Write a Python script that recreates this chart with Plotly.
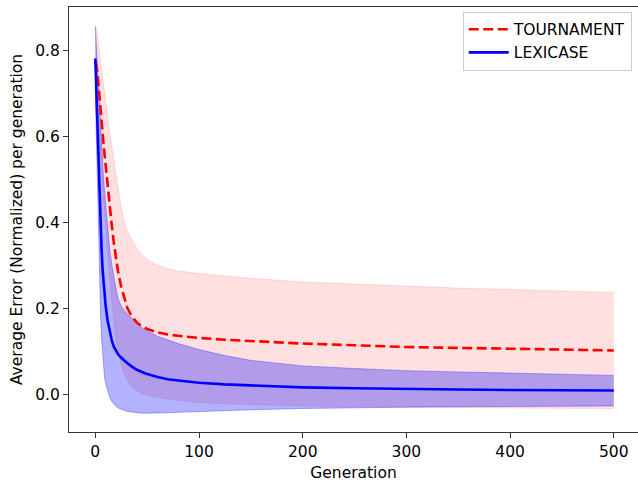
import plotly.graph_objects as go

generations = [0, 1, 2, 3, 4, 5, 6, 7, 8, 9, 10, 12, 14, 16, 18, 20, 22, 25, 28, 31, 35, 40, 45, 50,
               60, 70, 80, 100, 125, 150, 200, 250, 300, 350, 400, 450, 500]

tour_mean = [0.773, 0.765, 0.75, 0.725, 0.70, 0.67, 0.64, 0.61, 0.58, 0.555, 0.53, 0.48, 0.435, 0.39,
             0.35, 0.315, 0.285, 0.25, 0.225, 0.20, 0.182, 0.167, 0.158, 0.152, 0.144, 0.139, 0.136,
             0.131, 0.127, 0.124, 0.118, 0.114, 0.110, 0.108, 0.106, 0.104, 0.102]
tour_upper = [0.856, 0.85, 0.835, 0.815, 0.795, 0.775, 0.755, 0.735, 0.715, 0.695, 0.675, 0.64, 0.605,
              0.575, 0.54, 0.51, 0.48, 0.435, 0.40, 0.38, 0.36, 0.34, 0.325, 0.313, 0.300, 0.292, 0.287,
              0.281, 0.275, 0.270, 0.261, 0.256, 0.251, 0.247, 0.244, 0.240, 0.237]
tour_lower = [0.69, 0.68, 0.665, 0.635, 0.605, 0.565, 0.525, 0.485, 0.445, 0.415, 0.385, 0.32, 0.265,
              0.21, 0.165, 0.13, 0.10, 0.07, 0.048, 0.032, 0.018, 0.008, 0.002, -0.002, -0.007, -0.011,
              -0.014, -0.019, -0.022, -0.024, -0.027, -0.028, -0.030, -0.031, -0.032, -0.0325, -0.033]

lex_mean = [0.781, 0.70, 0.62, 0.54, 0.465, 0.40, 0.34, 0.29, 0.255, 0.228, 0.205, 0.17, 0.143, 0.124,
            0.110, 0.100, 0.093, 0.085, 0.078, 0.072, 0.065, 0.057, 0.052, 0.047, 0.040, 0.035, 0.032,
            0.027, 0.023, 0.021, 0.016, 0.014, 0.012, 0.011, 0.010, 0.0095, 0.009]
lex_upper = [0.856, 0.81, 0.76, 0.705, 0.655, 0.61, 0.57, 0.53, 0.50, 0.47, 0.44, 0.39, 0.335, 0.30,
             0.27, 0.245, 0.222, 0.205, 0.195, 0.187, 0.176, 0.165, 0.155, 0.147, 0.135, 0.126, 0.118,
             0.104, 0.090, 0.079, 0.066, 0.060, 0.055, 0.052, 0.049, 0.046, 0.044]
lex_lower = [0.706, 0.59, 0.48, 0.37, 0.275, 0.19, 0.13, 0.09, 0.058, 0.038, 0.025, 0.005, -0.008,
             -0.017, -0.023, -0.028, -0.032, -0.035, -0.038, -0.040, -0.041, -0.043, -0.044, -0.044,
             -0.044, -0.043, -0.042, -0.040, -0.038, -0.036, -0.033, -0.031, -0.030, -0.029, -0.028,
             -0.0275, -0.027]

x_ticks = [0, 100, 200, 300, 400, 500]
y_ticks = [0.0, 0.2, 0.4, 0.6, 0.8]
y_ticklabels = ["0.0", "0.2", "0.4", "0.6", "0.8"]

FONT = "DejaVu Sans"
FS = 15.5

fig = go.Figure()

# Tournament band
fig.add_trace(go.Scatter(x=generations, y=tour_lower, mode="lines",
                         line=dict(color="rgba(255,0,0,0.12)", width=1),
                         showlegend=False, hoverinfo="skip"))
fig.add_trace(go.Scatter(x=generations, y=tour_upper, mode="lines", fill="tonexty",
                         fillcolor="rgba(255,0,0,0.12)",
                         line=dict(color="rgba(255,0,0,0.12)", width=1),
                         showlegend=False, hoverinfo="skip"))
# Lexicase band
fig.add_trace(go.Scatter(x=generations, y=lex_lower, mode="lines",
                         line=dict(color="rgba(0,0,255,0.3)", width=1),
                         showlegend=False, hoverinfo="skip"))
fig.add_trace(go.Scatter(x=generations, y=lex_upper, mode="lines", fill="tonexty",
                         fillcolor="rgba(0,0,255,0.3)",
                         line=dict(color="rgba(0,0,255,0.3)", width=1),
                         showlegend=False, hoverinfo="skip"))

fig.add_trace(go.Scatter(x=generations, y=tour_mean, mode="lines", name="TOURNAMENT",
                         line=dict(color="#ff0000", width=2.6, dash="10px,4.5px")))
fig.add_trace(go.Scatter(x=generations, y=lex_mean, mode="lines", name="LEXICASE",
                         line=dict(color="#0000ff", width=2.6)))

x0_px, x_scale = 95.3, 1.037
l_margin, width = 69, 638
x_range = [(l_margin - x0_px) / x_scale, (width - x0_px) / x_scale]
y0_px, y_scale = 394.3, 430.0
t_margin, bottom_px, height = 7, 432, 482
y_range = [(y0_px - bottom_px) / y_scale, (y0_px - t_margin) / y_scale]

fig.update_layout(
    width=width, height=height,
    margin=dict(l=l_margin, r=0, t=t_margin, b=height - bottom_px),
    paper_bgcolor="white", plot_bgcolor="white",
    font=dict(family=FONT, size=FS, color="black"),
    legend=dict(x=0.989, y=0.989, xanchor="right", yanchor="top",
                traceorder="normal", itemwidth=40,
                bgcolor="rgba(255,255,255,0.8)", bordercolor="#cccccc", borderwidth=1,
                font=dict(family=FONT, size=FS, color="black"),
                tracegroupgap=0),
    xaxis=dict(range=x_range, tickvals=x_ticks, ticks="outside", ticklen=5, tickwidth=1,
               tickcolor="#333333", showline=True, linecolor="#333333", linewidth=1.2,
               mirror=True, showgrid=False, zeroline=False,
               title=dict(text="Generation", font=dict(family=FONT, size=FS), standoff=8),
               tickfont=dict(family=FONT, size=FS)),
    yaxis=dict(range=y_range, tickvals=y_ticks, ticktext=y_ticklabels, ticks="outside",
               ticklen=5, tickwidth=1, tickcolor="#333333", showline=True,
               linecolor="#333333", linewidth=1.2, showgrid=False, zeroline=False,
               title=dict(text="Average Error (Normalized) per generation",
                          font=dict(family=FONT, size=FS), standoff=8),
               tickfont=dict(family=FONT, size=FS)),
)

fig.write_html("out.html", config={"displayModeBar": False},
               post_script="document.body.style.margin='0';document.body.style.overflow='hidden';")
